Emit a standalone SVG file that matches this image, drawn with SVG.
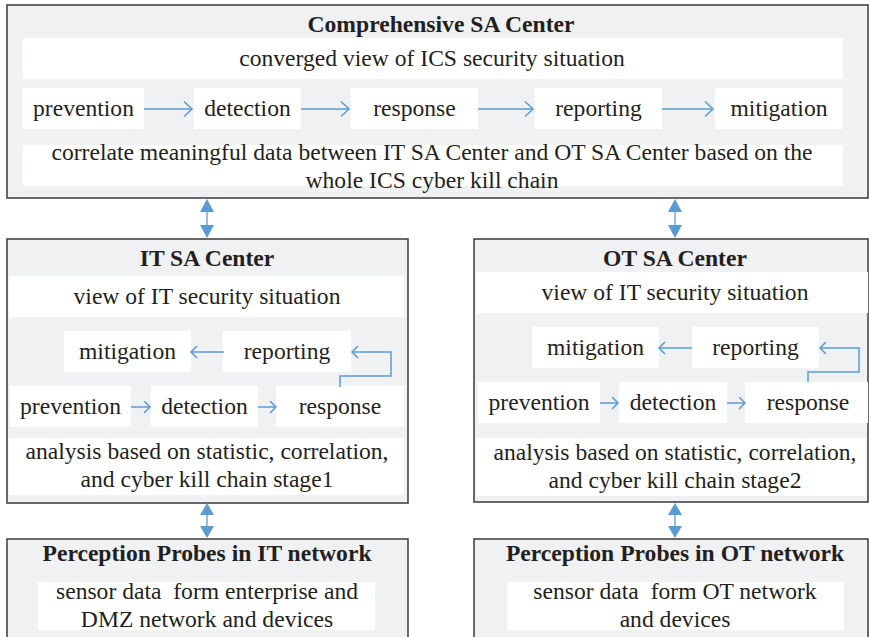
<svg xmlns="http://www.w3.org/2000/svg" width="869" height="637" viewBox="0 0 869 637">
<style>
.box{fill:#f0f1f3;stroke:#3a3a3a;stroke-width:1.5}
.band{fill:#ffffff}
.t{font-family:'Liberation Serif','Tinos','Times New Roman','DejaVu Serif',serif;font-size:23.6px;fill:#231f20;text-anchor:middle}
.h{font-family:'Liberation Serif','Tinos','Times New Roman','DejaVu Serif',serif;font-size:23.6px;font-weight:bold;fill:#231f20;text-anchor:middle}
.pre{white-space:pre}
.c{fill:none;stroke:#5b9bd5;stroke-width:1.5}
.d{fill:none;stroke:#5b9bd5;stroke-width:1.3}
.tri{fill:#5b9bd5}
</style>
<defs>
<marker id="chev" markerUnits="userSpaceOnUse" markerWidth="12" markerHeight="18" refX="9" refY="8" orient="auto">
<path d="M1,0.5 L9,8 L1,15.5" fill="none" stroke="#5b9bd5" stroke-width="1.5"/>
</marker>
<marker id="chevs" markerUnits="userSpaceOnUse" markerWidth="10" markerHeight="14" refX="7" refY="6.5" orient="auto">
<path d="M1,0.5 L7,6.5 L1,12.5" fill="none" stroke="#5b9bd5" stroke-width="1.5"/>
</marker>
</defs>

<g id="comprehensive">
<rect class="box" x="7" y="5" width="861" height="193"/>
<text class="h" x="441" y="32">Comprehensive SA Center</text>
<rect class="band" x="23" y="38" width="820" height="41"/>
<text class="t" x="432" y="66">converged view of ICS security situation</text>
<rect class="band" x="23" y="88" width="121" height="41"/>
<text class="t" x="83.5" y="116">prevention</text>
<rect class="band" x="194" y="88" width="107" height="41"/>
<text class="t" x="247.5" y="116">detection</text>
<rect class="band" x="351" y="88" width="127" height="41"/>
<text class="t" x="414.5" y="116">response</text>
<rect class="band" x="535" y="88" width="127" height="41"/>
<text class="t" x="598.5" y="116">reporting</text>
<rect class="band" x="715" y="88" width="128" height="41"/>
<text class="t" x="779" y="116">mitigation</text>
<rect class="band" x="23" y="145" width="820" height="41"/>
<text class="t" x="432" y="160">correlate meaningful data between IT SA Center and OT SA Center based on the</text>
<text class="t" x="432" y="188">whole ICS cyber kill chain</text>
</g>

<g id="it-center">
<rect class="box" x="7" y="239" width="401" height="264"/>
<text class="h" x="207" y="266">IT SA Center</text>
<rect class="band" x="9" y="276" width="395" height="41"/>
<text class="t" x="207" y="304">view of IT security situation</text>
<rect class="band" x="64" y="331" width="127" height="41"/>
<text class="t" x="127.5" y="359">mitigation</text>
<rect class="band" x="223" y="331" width="128" height="41"/>
<text class="t" x="287" y="359">reporting</text>
<rect class="band" x="10" y="386" width="121" height="41"/>
<text class="t" x="70.5" y="414">prevention</text>
<rect class="band" x="151" y="386" width="107" height="41"/>
<text class="t" x="204.5" y="414">detection</text>
<rect class="band" x="276" y="386" width="128" height="41"/>
<text class="t" x="340" y="414">response</text>
<rect class="band" x="9" y="438" width="395" height="57"/>
<text class="t" x="207" y="459">analysis based on statistic, correlation,</text>
<text class="t" x="207" y="487">and cyber kill chain stage1</text>
</g>

<g id="ot-center">
<rect class="box" x="474" y="239" width="394" height="263"/>
<text class="h" x="675" y="266">OT SA Center</text>
<rect class="band" x="476" y="272" width="392" height="41"/>
<text class="t" x="675" y="300">view of IT security situation</text>
<rect class="band" x="532" y="327" width="127" height="41"/>
<text class="t" x="595.5" y="355">mitigation</text>
<rect class="band" x="692" y="327" width="127" height="41"/>
<text class="t" x="755.5" y="355">reporting</text>
<rect class="band" x="478" y="382" width="122" height="41"/>
<text class="t" x="539" y="410">prevention</text>
<rect class="band" x="619" y="382" width="108" height="41"/>
<text class="t" x="673" y="410">detection</text>
<rect class="band" x="745" y="382" width="123" height="41"/>
<text class="t" x="808" y="410">response</text>
<rect class="band" x="476" y="438" width="390" height="58"/>
<text class="t" x="675" y="460">analysis based on statistic, correlation,</text>
<text class="t" x="675" y="488">and cyber kill chain stage2</text>
</g>

<g id="it-probes">
<rect class="box" x="7" y="539" width="401" height="110"/>
<text class="h" x="207" y="561">Perception Probes in IT network</text>
<rect class="band" x="38" y="582" width="337" height="48"/>
<text class="t pre" x="207" y="599" xml:space="preserve">sensor data  form enterprise and</text>
<text class="t" x="207" y="627">DMZ network and devices</text>
</g>

<g id="ot-probes">
<rect class="box" x="474" y="539" width="394" height="110"/>
<text class="h" x="675" y="561">Perception Probes in OT network</text>
<rect class="band" x="507" y="582" width="337" height="48"/>
<text class="t pre" x="675" y="599" xml:space="preserve">sensor data  form OT network</text>
<text class="t" x="675" y="627">and devices</text>
</g>

<g id="connectors">
<line class="c" x1="144" y1="109" x2="192" y2="109" marker-end="url(#chev)"/>
<line class="c" x1="301" y1="109" x2="349" y2="109" marker-end="url(#chev)"/>
<line class="c" x1="478" y1="109" x2="533" y2="109" marker-end="url(#chev)"/>
<line class="c" x1="662" y1="109" x2="713" y2="109" marker-end="url(#chev)"/>

<line class="c" x1="131" y1="407" x2="150" y2="407" marker-end="url(#chevs)"/>
<line class="c" x1="258" y1="407" x2="276" y2="407" marker-end="url(#chevs)"/>
<line class="c" x1="224" y1="352" x2="191" y2="352" marker-end="url(#chevs)"/>
<polyline class="c" points="340,387 340,376 391,376 391,352 352,352" marker-end="url(#chevs)"/>

<line class="c" x1="600" y1="403" x2="618" y2="403" marker-end="url(#chevs)"/>
<line class="c" x1="727" y1="403" x2="745" y2="403" marker-end="url(#chevs)"/>
<line class="c" x1="692" y1="348" x2="659" y2="348" marker-end="url(#chevs)"/>
<polyline class="c" points="808,382 808,372 859,372 859,348 820,348" marker-end="url(#chevs)"/>

<line class="d" x1="207" y1="210" x2="207" y2="227"/>
<path class="tri" d="M207,199 L214,212 L200,212 Z M207,238 L214,225 L200,225 Z"/>
<line class="d" x1="675" y1="210" x2="675" y2="227"/>
<path class="tri" d="M675,199 L682,212 L668,212 Z M675,238 L682,225 L668,225 Z"/>
<line class="d" x1="207" y1="514" x2="207" y2="527"/>
<path class="tri" d="M207,503 L214,515 L200,515 Z M207,538 L214,526 L200,526 Z"/>
<line class="d" x1="675" y1="514" x2="675" y2="527"/>
<path class="tri" d="M675,503 L682,515 L668,515 Z M675,538 L682,526 L668,526 Z"/>
</g>
</svg>
